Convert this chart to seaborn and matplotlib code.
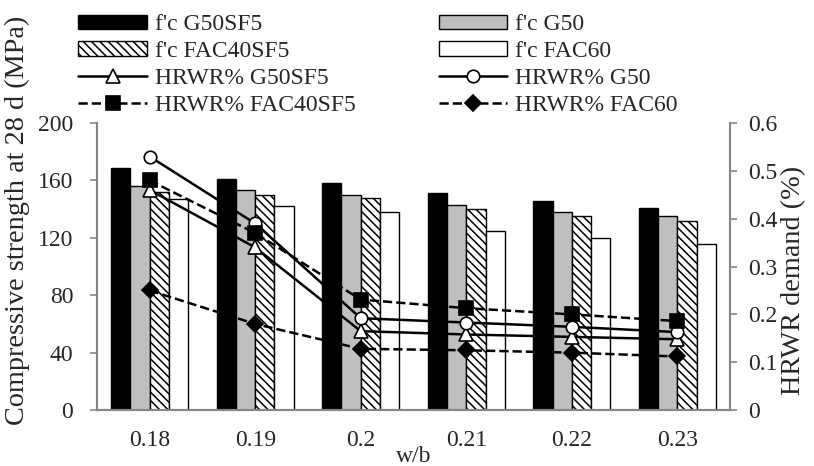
import pandas as pd
import matplotlib
matplotlib.use("Agg")
import matplotlib.pyplot as plt
import seaborn as sns
from matplotlib.patches import Patch
from matplotlib.lines import Line2D

# Data
wb = ["0.18", "0.19", "0.2", "0.21", "0.22", "0.23"]
mixes = ["G50SF5", "G50", "FAC40SF5", "FAC60"]

fc_G50SF5 = [169, 161, 158, 151, 146, 141]
fc_G50 = [156, 153, 150, 143, 138, 135]
fc_FAC40SF5 = [152, 150, 148, 140, 135, 132]
fc_FAC60 = [147, 142, 138, 125, 120, 116]

hrwr_G50SF5 = [0.46, 0.34, 0.165, 0.158, 0.153, 0.148]
hrwr_G50 = [0.53, 0.39, 0.192, 0.183, 0.174, 0.163]
hrwr_FAC40SF5 = [0.48, 0.37, 0.231, 0.213, 0.200, 0.186]
hrwr_FAC60 = [0.25, 0.18, 0.128, 0.125, 0.120, 0.112]

sns.set_style("white")
plt.rcParams["font.family"] = ["Liberation Serif", "DejaVu Serif"]
plt.rcParams["hatch.linewidth"] = 1.1
plt.rcParams["hatch.color"] = "#222222"

gray = "#868686"
fs = 17
hatch = "\\\\\\\\"

df = pd.DataFrame({
    "wb": wb * 4,
    "fc": fc_G50SF5 + fc_G50 + fc_FAC40SF5 + fc_FAC60,
    "mix": [m for m in mixes for _ in wb],
})

fig = plt.figure(figsize=(8.14, 4.66), dpi=100)
ax = fig.add_axes([0.119, 0.120, 0.778, 0.616])

bar_colors = ["black", "#bfbfbf", "white", "white"]
sns.barplot(data=df, x="wb", y="fc", hue="mix", hue_order=mixes,
            palette=bar_colors, width=0.73, edgecolor="black", linewidth=1.0,
            saturation=1, ax=ax, legend=False)
for bar in ax.containers[2]:
    bar.set_hatch(hatch)

ax.set_ylim(0, 200)
ax.set_yticks(range(0, 201, 40))
ax.set_xlim(-0.5, 5.5)
ax.set_xticks(range(len(wb)))
ax.set_xticklabels(wb)
ax.set_xticks([i - 0.5 for i in range(len(wb) + 1)], minor=True)
ax.tick_params(axis="x", which="major", length=0, labelsize=fs, pad=14)
ax.tick_params(axis="x", which="minor", length=5, color=gray, width=1.2)
ax.tick_params(axis="y", length=5, color=gray, width=1.2, labelsize=fs,
               direction="out", left=True, pad=12)
ax.set_xlabel("w/b", fontsize=fs, labelpad=-3)
ax.set_ylabel("Compressive strength at 28 d (MPa)", fontsize=20.3)
ax.yaxis.set_label_coords(-0.106, 0.66)

ax2 = ax.twinx()
x_pos = list(range(len(wb)))
line_styles = [
    (hrwr_G50SF5, "-", "^", "white", 9.5),
    (hrwr_G50, "-", "o", "white", 9),
    (hrwr_FAC40SF5, "--", "s", "black", 9.5),
    (hrwr_FAC60, "--", "D", "black", 8.5),
]
for vals, ls, mk, mfc, ms in line_styles:
    sns.lineplot(x=x_pos, y=vals, ax=ax2, color="black", linestyle=ls,
                 linewidth=1.8, marker=mk, markersize=ms,
                 markerfacecolor=mfc, markeredgecolor="black",
                 markeredgewidth=1.2)
ax2.set_ylim(0, 0.6)
ax2.set_yticks([0, 0.1, 0.2, 0.3, 0.4, 0.5, 0.6])
ax2.set_yticklabels(["0", "0.1", "0.2", "0.3", "0.4", "0.5", "0.6"])
ax2.tick_params(axis="y", length=5, color=gray, width=1.2, labelsize=fs,
                right=True, pad=8)
ax2.set_ylabel("HRWR demand (%)", fontsize=20.3)
ax2.yaxis.set_label_coords(1.081, 0.453)
ax.set_xlim(-0.5, 5.5)

for a in (ax, ax2):
    for side in ("left", "right", "bottom"):
        a.spines[side].set_color(gray)
        a.spines[side].set_linewidth(1.5)
    a.spines["top"].set_visible(False)

# Legend laid out row by row like the reference
h_bar = [Patch(facecolor=c, edgecolor="black", linewidth=1.0) for c in bar_colors]
h_bar[2].set_hatch(hatch)
h_line = [Line2D([0], [0], color="black", linestyle=ls, linewidth=1.8, marker=mk,
                 markersize=ms, markerfacecolor=mfc,
                 markeredgecolor="black", markeredgewidth=1.2)
          for _, ls, mk, mfc, ms in line_styles]
labels_bar = ["f'c " + m for m in mixes]
labels_line = ["HRWR% " + m for m in mixes]
handles = [h_bar[0], h_bar[2], h_line[0], h_line[2], h_bar[1], h_bar[3], h_line[1], h_line[3]]
labels = [labels_bar[0], labels_bar[2], labels_line[0], labels_line[2],
          labels_bar[1], labels_bar[3], labels_line[1], labels_line[3]]
fig.legend(handles, labels, ncol=2, loc="upper left", bbox_to_anchor=(0.096, 0.97),
           frameon=False, fontsize=fs, handlelength=2.92, handleheight=0.55,
           handletextpad=0.34, labelspacing=0.25, columnspacing=3.5,
           borderaxespad=0, borderpad=0)

fig.savefig("out.png", dpi=100)
